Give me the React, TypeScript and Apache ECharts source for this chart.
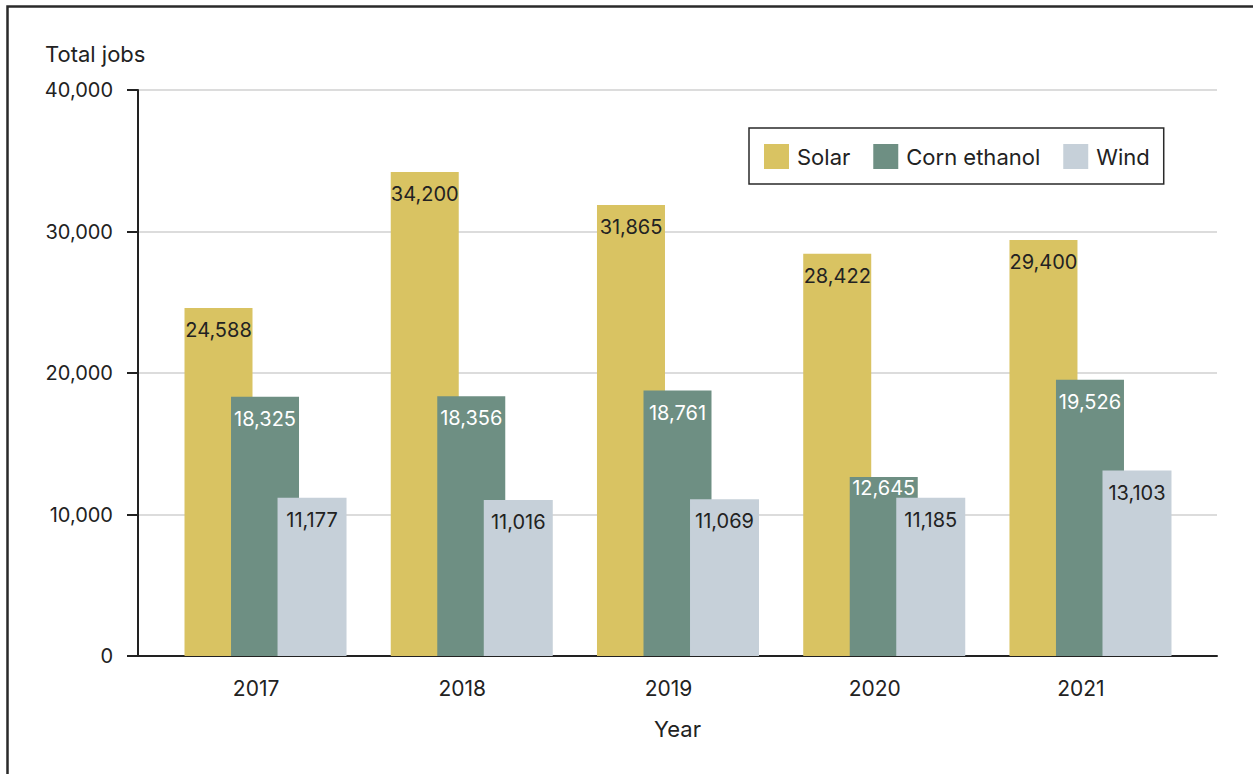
import React, { useEffect, useRef } from "react";
import * as echarts from "echarts";

const years = ["2017", "2018", "2019", "2020", "2021"];
const solar = [24588, 34200, 31865, 28422, 29400];
const cornEthanol = [18325, 18356, 18761, 12645, 19526];
const wind = [11177, 11016, 11069, 11185, 13103];
const yTicks = { min: 0, max: 40000, interval: 10000 };
// label of the corn-ethanol bar in 2020 sits higher to clear the wind bar
const raisedCornLabelYear = "2020";

const FONT = "Inter, 'Noto Sans', sans-serif";
const fmt = (v: number) => v.toLocaleString("en-US");

export default function App() {
  const ref = useRef<HTMLDivElement>(null);
  useEffect(() => {
    if (!ref.current) return;
    const chart = echarts.init(ref.current, undefined, { renderer: "svg" });
    const W = 1253;
    const H = 774;
    const gridTop = 90;
    const gridBottom = H - 656;
    const labelStyle = (color: string) => ({
      show: true,
      position: "insideTop" as const,
      distance: 12,
      fontSize: 20,
      fontFamily: FONT,
      color,
      formatter: (p: any) => fmt(p.value),
    });
    const cornData = cornEthanol.map((v, i) =>
      years[i] === raisedCornLabelYear ? { value: v, label: { distance: 1 } } : v
    );
    chart.setOption({
      animation: false,
      textStyle: { fontFamily: FONT },
      graphic: [
        {
          type: "polyline",
          shape: { points: [[7.5, H + 5], [7.5, 6.5], [W + 5, 6.5]] },
          style: { stroke: "#2a2a2a", lineWidth: 2.5, fill: "none" },
          silent: true,
        },
        {
          type: "text",
          x: 45,
          y: 54,
          style: {
            text: "Total jobs",
            fontSize: 22,
            fontFamily: FONT,
            fill: "#222",
            verticalAlign: "middle",
            align: "left",
          },
        },
      ],
      legend: {
        left: 749,
        top: 128,
        orient: "horizontal",
        borderColor: "#2a2a2a",
        borderWidth: 1.5,
        padding: [16, 14, 15, 15],
        itemWidth: 25,
        itemHeight: 25,
        itemGap: 23,
        icon: "rect",
        textStyle: { fontSize: 22, color: "#222", fontFamily: FONT, padding: [0, 0, 0, 3] },
        data: ["Solar", "Corn ethanol", "Wind"],
      },
      grid: [
        { left: 138, right: W - 1217, top: gridTop, bottom: gridBottom },
        { left: 153, right: W - 1184, top: gridTop, bottom: gridBottom },
        { left: 162.4, right: W - 1193.6, top: gridTop, bottom: gridBottom },
      ],
      xAxis: [
        {
          gridIndex: 0,
          type: "category",
          data: years,
          axisLine: { show: true, lineStyle: { color: "#222", width: 2 } },
          axisTick: { show: false },
          axisLabel: { show: false },
          splitLine: { show: false },
          name: "Year",
          nameLocation: "middle",
          nameGap: 62,
          nameTextStyle: { fontSize: 22, color: "#222", fontFamily: FONT },
        },
        {
          gridIndex: 1,
          type: "category",
          data: years,
          axisLine: { show: false },
          axisTick: { show: false },
          axisLabel: { show: true, fontSize: 21, color: "#222", margin: 22, fontFamily: FONT },
        },
        {
          gridIndex: 2,
          type: "category",
          data: years,
          show: false,
        },
      ],
      yAxis: [
        {
          gridIndex: 0,
          type: "value",
          ...yTicks,
          axisLine: { show: true, lineStyle: { color: "#222", width: 2 } },
          axisTick: { show: true, length: 11, inside: false, lineStyle: { color: "#222", width: 2 } },
          axisLabel: {
            show: true,
            fontSize: 20,
            color: "#222",
            margin: 25,
            fontFamily: FONT,
            formatter: (v: number) => fmt(v),
          },
          splitLine: { show: true, lineStyle: { color: "#d0d0d0", width: 1.5 } },
        },
        { gridIndex: 1, type: "value", ...yTicks, show: false },
        { gridIndex: 2, type: "value", ...yTicks, show: false },
      ],
      series: [
        {
          name: "Solar",
          type: "bar",
          xAxisIndex: 2,
          yAxisIndex: 2,
          data: solar,
          barWidth: 68,
          barGap: "-31.6%",
          itemStyle: { color: "#D9C362" },
          label: labelStyle("#222"),
        },
        {
          name: "Corn ethanol",
          type: "bar",
          xAxisIndex: 2,
          yAxisIndex: 2,
          data: cornData,
          barWidth: 68,
          barGap: "-31.6%",
          itemStyle: { color: "#6E8F83" },
          label: labelStyle("#ffffff"),
        },
        {
          name: "Wind",
          type: "bar",
          xAxisIndex: 2,
          yAxisIndex: 2,
          data: wind,
          barWidth: 69,
          barGap: "-31.6%",
          itemStyle: { color: "#C6D0D9" },
          label: labelStyle("#222"),
        },
      ],
    });
    return () => chart.dispose();
  }, []);
  return (
    <div
      ref={ref}
      style={{ position: "fixed", left: 0, top: 0, width: 1253, height: 774, background: "#fff" }}
    />
  );
}
